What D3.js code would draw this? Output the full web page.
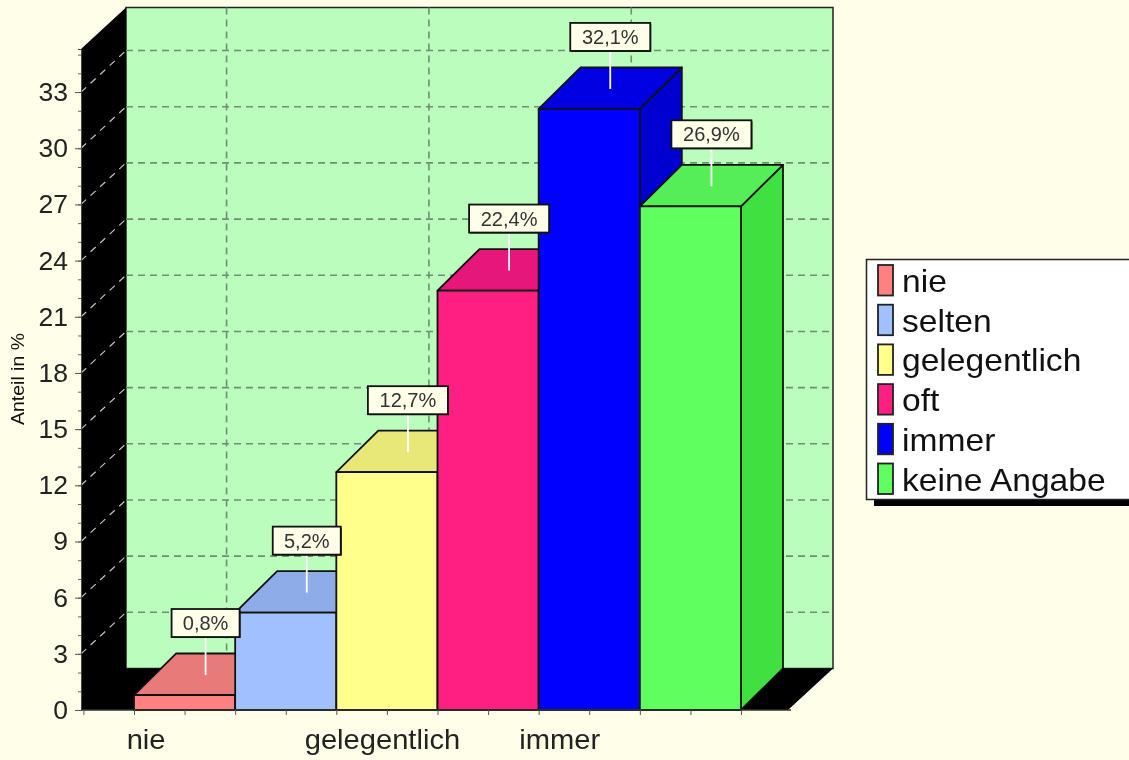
<!DOCTYPE html>
<html><head><meta charset="utf-8">
<script src="https://cdn.jsdelivr.net/npm/d3@7"></script>
<style>
html,body{margin:0;padding:0;background:#fffee9;overflow:hidden}
svg{display:block;filter:blur(0.55px)}
text{font-family:"Liberation Sans",Arial,sans-serif}
</style></head><body>
<script>
const categories = ["nie","selten","gelegentlich","oft","immer","keine Angabe"];
const values = [0.8,5.2,12.7,22.4,32.1,26.9];
const valueLabels = ["0,8%","5,2%","12,7%","22,4%","32,1%","26,9%"];
const frontColors = ["#ff8080","#a0c0ff","#ffff8c","#ff1f82","#0000ff","#60ff60"];
const topColors = ["#e87a7a","#8eace8","#e8e878","#e6167a","#0000e0","#56ee56"];
const sideColors = ["#d86c6c","#809cd8","#d8d868","#d01070","#0000d0","#40e040"];
const axisLabels = ["nie","gelegentlich","immer"];
const axisLabelShift = {"nie":-39,"gelegentlich":-5,"immer":-30};
const yMajor = [0,3,6,9,12,15,18,21,24,27,30,33];
const yTitle = "Anteil in %";

const W=1129,H=760, DX=43, DY=41.5;
const svg=d3.select("body").append("svg").attr("width",W).attr("height",H);
svg.append("rect").attr("width",W).attr("height",H).attr("fill","#fffee9");

const y=d3.scaleLinear().domain([0,35.3]).range([710,49]);
const x=d3.scaleLinear().domain([0,6]).range([134,741]);
const x0=81,x1=788;
const y0=y(0),yT=y(35.3);
const pts=a=>a.map(p=>p.join(",")).join(" ");
function widen(sel,k){sel.each(function(){const t=d3.select(this);
  t.attr("textLength",this.getComputedTextLength()*k).attr("lengthAdjust","spacingAndGlyphs");});}

// walls
svg.append("polygon").attr("points",pts([[x0+DX+2,yT-DY],[x1+DX+2,yT-DY],[x1+DX+2,y0-DY],[x0+DX+2,y0-DY]]))
  .attr("fill","#bafdbd").attr("stroke","#222").attr("stroke-width",1.5);
svg.append("polygon").attr("points",pts([[x0,yT],[x0+DX+2,yT-DY],[x0+DX+2,y0-DY],[x1+DX+2,y0-DY],[x1,y0],[x0,y0]])).attr("fill","#000");

// grid
const grid=svg.append("g").attr("fill","none");
yMajor.filter(v=>v>0).forEach(v=>{
  grid.append("line").attr("x1",x0+DX+2).attr("x2",x1+DX+2).attr("y1",y(v)-DY).attr("y2",y(v)-DY)
    .attr("stroke","#6f8f72").attr("stroke-width",1.6).attr("stroke-dasharray","7,5");
  grid.append("line").attr("x1",x0).attr("x2",x0+DX+2).attr("y1",y(v)).attr("y2",y(v)-DY)
    .attr("stroke","#c4c4c4").attr("stroke-width",1.2).attr("stroke-dasharray","7,6");
});
axisLabels.forEach(l=>{
  const px=x(categories.indexOf(l)+0.5)+DX-1;
  grid.append("line").attr("x1",px).attr("x2",px).attr("y1",yT-DY).attr("y2",y0-DY)
    .attr("stroke","#6f8f72").attr("stroke-width",1.6).attr("stroke-dasharray","7,5");
});

// bars
const bars=svg.append("g").attr("stroke","#111").attr("stroke-width",1.8).attr("stroke-linejoin","round");
values.forEach((v,i)=>{
  const a=x(i),b=x(i+1),t=y(v);
  bars.append("polygon").attr("points",pts([[b,t],[b+DX-1,t-DY],[b+DX-1,y0-DY],[b,y0]])).attr("fill",sideColors[i]);
  bars.append("polygon").attr("points",pts([[a,t],[a+DX-1,t-DY],[b+DX-1,t-DY],[b,t]])).attr("fill",topColors[i]);
  bars.append("rect").attr("x",a).attr("y",t).attr("width",b-a).attr("height",y0-t).attr("fill",frontColors[i]);
});

// axes
const gy=svg.append("g").attr("transform",`translate(${x0},0)`);
gy.call(d3.axisLeft(y).tickValues(d3.range(0,36)).tickSize(3).tickFormat(""));
gy.call(g=>g.select(".domain").attr("stroke","#444"));
gy.selectAll(".tick line").attr("stroke","#666");
const gyM=svg.append("g").attr("transform",`translate(${x0},0)`);
gyM.call(d3.axisLeft(y).tickValues(yMajor).tickSize(6).tickPadding(7).tickFormat(d3.format("d")));
gyM.select(".domain").remove();
gyM.selectAll(".tick line").attr("stroke","#555");
gyM.selectAll(".tick text").attr("font-size",26.5).attr("fill","#222").attr("font-family",'"Liberation Sans",Arial,sans-serif');

const gx=svg.append("g").attr("transform",`translate(0,${y0})`);
const labelAt=new Map(axisLabels.map(l=>[categories.indexOf(l)+0.5,l]));
gx.call(d3.axisBottom(x).tickValues(d3.range(-0.5,6.01,0.5)).tickSize(5).tickPadding(14)
  .tickFormat(d=>labelAt.get(d)||""));
gx.select(".domain").attr("d",`M${x0},0H${x1+3}`).attr("stroke","#333").attr("stroke-width",1.5);
gx.selectAll(".tick line").attr("stroke","#555");
gx.selectAll(".tick text").attr("font-size",28).attr("fill","#222").attr("font-family",'"Liberation Sans",Arial,sans-serif')
  .attr("dx",d=>axisLabelShift[labelAt.get(d)]||0).call(widen,1.04);

// y title
svg.append("text").attr("transform","translate(24,379) rotate(-90)").attr("text-anchor","middle")
  .attr("font-size",18).attr("fill","#111").text(yTitle).call(widen,1.08);

// value labels
values.forEach((v,i)=>{
  const c=x(i+0.5)+DX-22,tip=y(v)-20,by=tip-38,bh=28,bw=i<2?68:80,g=svg.append("g");
  g.append("line").attr("x1",c).attr("x2",c).attr("y1",by).attr("y2",tip).attr("stroke","#fff").attr("stroke-width",1.8);
  g.append("rect").attr("x",c-bw/2+1).attr("y",by-bh+1).attr("width",bw).attr("height",bh).attr("fill","#222");
  g.append("rect").attr("x",c-bw/2).attr("y",by-bh).attr("width",bw).attr("height",bh)
    .attr("fill","#fffee9").attr("stroke","#111").attr("stroke-width",1.8);
  g.append("text").attr("x",c).attr("y",by-bh/2+7).attr("text-anchor","middle").attr("font-size",20).attr("fill","#333")
    .text(valueLabels[i]);
});

// legend
const lg=svg.append("g");
lg.append("rect").attr("x",874).attr("y",265).attr("width",270).attr("height",241).attr("fill","#000");
lg.append("rect").attr("x",866.5).attr("y",259.5).attr("width",270).attr("height",240).attr("fill","#fff").attr("stroke","#222").attr("stroke-width",1.5);
const row=d3.scaleLinear().domain([0,5]).range([265,463.5]);
categories.forEach((c,i)=>{
  lg.append("rect").attr("x",878).attr("y",row(i)).attr("width",15).attr("height",30.5).attr("fill",frontColors[i]).attr("stroke","#222").attr("stroke-width",1.8);
  lg.append("text").attr("x",902).attr("y",row(i)+27).attr("font-size",32).attr("fill","#111").text(c).call(widen,1.05);
});
</script></body></html>
